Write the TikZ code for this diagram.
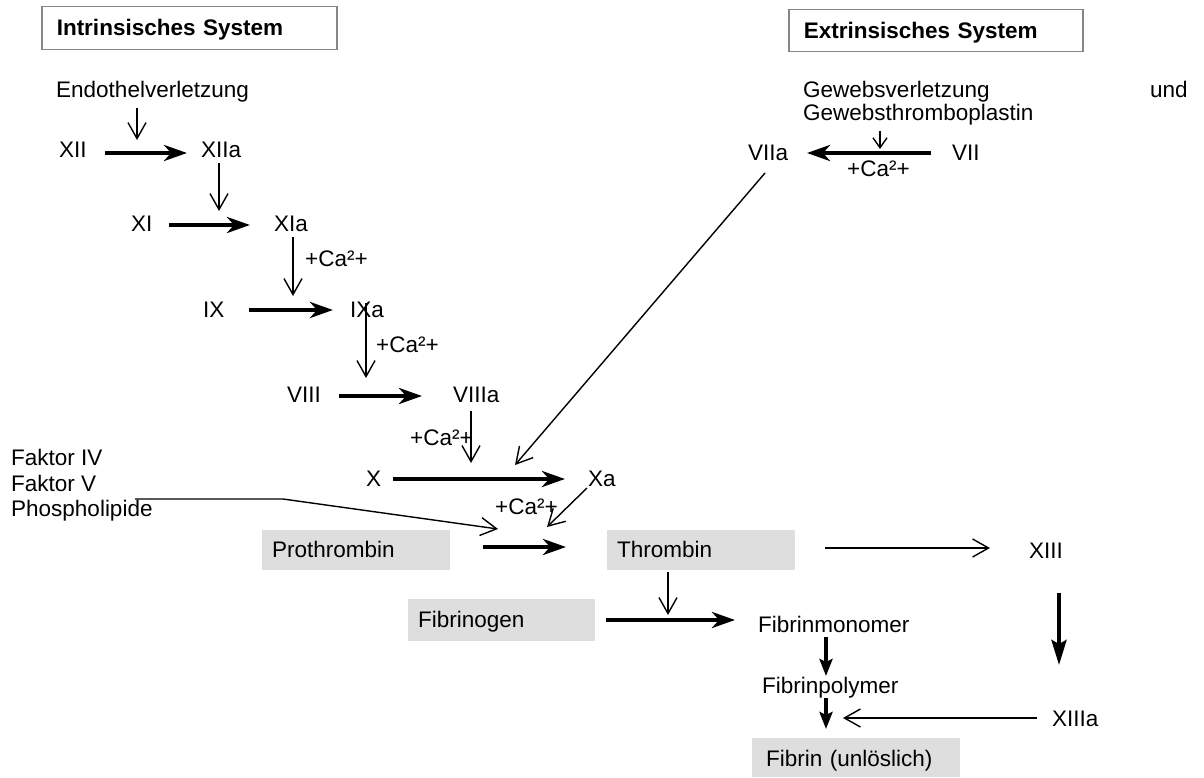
\documentclass[tikz,border=0pt]{standalone}
\usepackage{fontspec}
\setmainfont{Liberation Sans}
\usetikzlibrary{arrows.meta}
\definecolor{boxgray}{RGB}{222,222,222}
\definecolor{framegray}{RGB}{135,135,135}
\begin{document}
\begin{tikzpicture}[x=1pt,y=-1pt,
  every node/.style={font=\fontsize{22.5}{27}\selectfont, inner sep=0pt, anchor=base west},
  thinarrow/.style={line width=1.4pt, -{Straight Barb[length=16pt,width=18pt]}},
  thickarrow/.style={line width=4pt, -{Stealth[length=23pt,width=16pt,inset=7pt]}},
  downarrow/.style={line width=4pt, -{Stealth[length=17pt,width=13pt,inset=3pt]}},
  titlebox/.style={draw=framegray, line width=1.5pt, anchor=north west, inner xsep=15pt,
    text width=#1, align=left, text height=15.5pt, text depth=0.5pt,
    font=\fontsize{22.5}{27}\selectfont\bfseries},
  graybox/.style={fill=boxgray, anchor=north west, inner xsep=10pt,
    text width=#1, align=left, text height=15.5pt, text depth=0.5pt}]
\useasboundingbox (0,0) rectangle (1204,778);

% title boxes
\node[titlebox=265pt, minimum height=43pt] (intr) at (41,6) {Intrinsisches System};
\node[titlebox=264pt, minimum height=42pt] (extr) at (788,9) {Extrinsisches System};

% intrinsic cascade
\node (endo) at (56,98) {Endothelverletzung};
\node (xii) at (59,158) {XII};
\node (xiia) at (201,158) {XIIa};
\node (xi) at (131,231) {XI};
\node (xia) at (274,231) {XIa};
\node (ca1) at (305,266) {+Ca²+};
\node (ix) at (203,317) {IX};
\node (ixa) at (350,317) {IXa};
\node (ca2) at (376,352) {+Ca²+};
\node (viii) at (287,402) {VIII};
\node (viiia) at (453,402) {VIIIa};
\node (ca3) at (410,445) {+Ca²+};
\node (x) at (366,486) {X};
\node (xa) at (588,486) {Xa};
\node (ca4) at (495,514) {+Ca²+};
\node (f4) at (11,465) {Faktor IV};
\node (f5) at (11,491) {Faktor V};
\node (pl) at (11,516) {Phospholipide};

% extrinsic
\node (gv) at (803,98) {Gewebsverletzung};
\node (und) at (1150,98) {und};
\node (gt) at (803,121) {Gewebsthromboplastin};
\node (viia) at (748,161) {VIIa};
\node (vii) at (952,161) {VII};
\node (ca0) at (847,177) {+Ca²+};

% common path
\node[graybox=168pt, minimum height=40pt] (prot) at (262,530) {Prothrombin};
\node[graybox=168pt, minimum height=40pt] (thromb) at (607,530) {Thrombin};
\node[graybox=167pt, minimum height=42pt] (fgen) at (408,599) {Fibrinogen};
\node[graybox=180pt, inner xsep=14pt, minimum height=39pt, text height=18pt, text depth=0pt] (fibrin) at (752,738) {Fibrin (unlöslich)};
\node (xiii) at (1029,558) {XIII};
\node (fmono) at (758,632) {Fibrinmonomer};
\node (fpoly) at (762,693) {Fibrinpolymer};
\node (xiiia) at (1052,726) {XIIIa};

% connector end points
\coordinate (e1) at (137,108);   \coordinate (e2) at (137,140);
\coordinate (a1) at (105,153);   \coordinate (a2) at (187,153);
\coordinate (b1) at (219,163);   \coordinate (b2) at (219,211);
\coordinate (c1) at (169,225);   \coordinate (c2) at (250,225);
\coordinate (d1) at (293,237);   \coordinate (d2) at (293,296);
\coordinate (g1) at (249,310);   \coordinate (g2) at (333,310);
\coordinate (h1) at (366,303);   \coordinate (h2) at (366,378);
\coordinate (i1) at (339,396);   \coordinate (i2) at (422,396);
\coordinate (j1) at (471,411);   \coordinate (j2) at (471,463);
\coordinate (k1) at (393,479);   \coordinate (k2) at (565,479);
\coordinate (m1) at (765,173);   \coordinate (m2) at (515,465);
\coordinate (p1) at (135,499);   \coordinate (p2) at (283,499);   \coordinate (p3) at (498,529);
\coordinate (q1) at (587,488);   \coordinate (q2) at (547,527);
\coordinate (r1) at (483,547);   \coordinate (r2) at (566,547);
\coordinate (s1) at (825,548);   \coordinate (s2) at (990,548);
\coordinate (t1) at (668,572);   \coordinate (t2) at (668,615);
\coordinate (u1) at (606,620);   \coordinate (u2) at (735,620);
\coordinate (v1) at (826,637);   \coordinate (v2) at (826,676);
\coordinate (w1) at (826,698);   \coordinate (w2) at (826,729);
\coordinate (y1) at (1059,593);  \coordinate (y2) at (1059,665);
\coordinate (z1) at (1037,718);  \coordinate (z2) at (843,718);
\coordinate (o1) at (931,153);   \coordinate (o2) at (807,153);
\coordinate (n1) at (880,131);   \coordinate (n2) at (880,149);

% connectors
\draw[thinarrow] (e1) -- (e2);
\draw[thickarrow] (a1) -- (a2);
\draw[thinarrow] (b1) -- (b2);
\draw[thickarrow] (c1) -- (c2);
\draw[thinarrow] (d1) -- (d2);
\draw[thickarrow] (g1) -- (g2);
\draw[thinarrow] (h1) -- (h2);
\draw[thickarrow] (i1) -- (i2);
\draw[thinarrow] (j1) -- (j2);
\draw[thickarrow] (k1) -- (k2);
\draw[thinarrow] (m1) -- (m2);
\draw[thinarrow] (p1) -- (p2) -- (p3);
\draw[thinarrow] (q1) -- (q2);
\draw[thickarrow] (r1) -- (r2);
\draw[thinarrow] (s1) -- (s2);
\draw[thinarrow] (t1) -- (t2);
\draw[thickarrow] (u1) -- (u2);
\draw[downarrow] (v1) -- (v2);
\draw[downarrow] (w1) -- (w2);
\draw[line width=4pt, -{Stealth[length=25pt,width=15pt,inset=4pt]}] (y1) -- (y2);
\draw[thinarrow] (z1) -- (z2);
\draw[thickarrow] (o1) -- (o2);
\draw[line width=1.4pt, -{Straight Barb[length=10pt,width=14pt]}] (n1) -- (n2);
\end{tikzpicture}
\end{document}
